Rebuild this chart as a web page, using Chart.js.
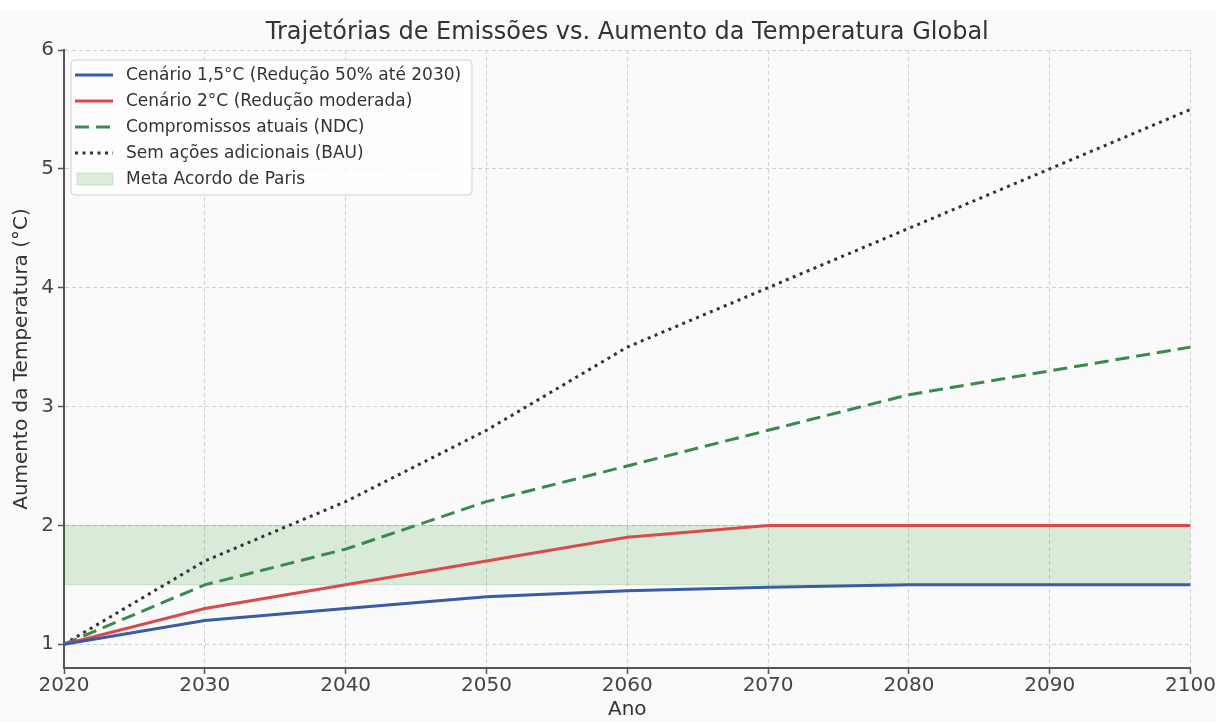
<!DOCTYPE html>
<html lang="pt">
<head>
<meta charset="utf-8">
<title>Trajetórias de Emissões</title>
<script src="https://cdn.jsdelivr.net/npm/chart.js@4.4.0/dist/chart.umd.min.js"></script>
<style>
  html, body { margin: 0; padding: 0; background: #fff; }
  #wrap { width: 1216px; height: 722px; }
</style>
</head>
<body>
<div id="wrap"><canvas id="myChart" width="1216" height="722"></canvas></div>
<script>
const years = [2020, 2030, 2040, 2050, 2060, 2070, 2080, 2090, 2100];
const cenario15 = [1.0, 1.2, 1.3, 1.4, 1.45, 1.48, 1.5, 1.5, 1.5];
const cenario2 = [1.0, 1.3, 1.5, 1.7, 1.9, 2.0, 2.0, 2.0, 2.0];
const ndc = [1.0, 1.5, 1.8, 2.2, 2.5, 2.8, 3.1, 3.3, 3.5];
const bau = [1.0, 1.7, 2.2, 2.8, 3.5, 4.0, 4.5, 5.0, 5.5];
const metaMin = [1.5, 1.5, 1.5, 1.5, 1.5, 1.5, 1.5, 1.5, 1.5];
const metaMax = [2.0, 2.0, 2.0, 2.0, 2.0, 2.0, 2.0, 2.0, 2.0];
const xTicks = [2020, 2030, 2040, 2050, 2060, 2070, 2080, 2090, 2100];
const yTicks = [1, 2, 3, 4, 5, 6];
const chartTitle = 'Trajetórias de Emissões vs. Aumento da Temperatura Global';

const FONT = "'DejaVu Sans', sans-serif";
const toPoints = (arr) => arr.map((v, i) => ({ x: years[i], y: v }));

const lineDataset = (label, data, color, dash, order) => ({
  label: label,
  data: toPoints(data),
  borderColor: color,
  backgroundColor: color,
  borderWidth: 3,
  borderDash: dash,
  pointRadius: 0,
  tension: 0,
  fill: false,
  order: order,
  legendType: 'line',
});

// fundo da figura + título centrado sobre a área do gráfico
const background = {
  id: 'background',
  beforeDraw: (chart) => {
    const ctx = chart.ctx;
    ctx.save();
    ctx.fillStyle = '#fafafa';
    ctx.fillRect(0, 10, chart.width, chart.height - 10);
    ctx.restore();
  },
  afterDraw: (chart) => {
    const ctx = chart.ctx;
    const { left, right } = chart.chartArea;
    ctx.save();
    ctx.font = `24px ${FONT}`;
    ctx.fillStyle = '#333';
    ctx.textAlign = 'center';
    ctx.textBaseline = 'middle';
    ctx.fillText(chartTitle, (left + right) / 2, 33);
    ctx.restore();
  },
};

// legenda desenhada dentro da área do gráfico (canto superior esquerdo)
const legendBox = {
  id: 'legendBox',
  afterDraw: (chart) => {
    const ctx = chart.ctx;
    const items = chart.data.datasets.filter((ds) => ds.legendType);
    const x = chart.chartArea.left + 7;
    const y = chart.chartArea.top + 10;
    ctx.save();
    ctx.beginPath();
    ctx.roundRect(x, y, 401, 135, 4);
    ctx.fillStyle = 'rgba(255,255,255,0.8)';
    ctx.fill();
    ctx.strokeStyle = '#d0d0d0';
    ctx.lineWidth = 1;
    ctx.stroke();

    ctx.font = `17px ${FONT}`;
    ctx.textBaseline = 'middle';
    items.forEach((ds, i) => {
      const rowY = y + 15 + i * 26;
      if (ds.legendType === 'patch') {
        ctx.fillStyle = ds.backgroundColor;
        ctx.fillRect(x + 6, rowY - 6, 36, 12);
        ctx.strokeStyle = ds.borderColor;
        ctx.lineWidth = 1;
        ctx.strokeRect(x + 6, rowY - 6, 36, 12);
      } else {
        ctx.beginPath();
        ctx.setLineDash(ds.borderDash || []);
        ctx.strokeStyle = ds.borderColor;
        ctx.lineWidth = 3;
        ctx.moveTo(x + 4, rowY);
        ctx.lineTo(x + 42, rowY);
        ctx.stroke();
        ctx.setLineDash([]);
      }
      ctx.fillStyle = '#333';
      ctx.fillText(ds.label, x + 55, rowY + 1);
    });
    ctx.restore();
  },
};

const ctx = document.getElementById('myChart').getContext('2d');
const chart = new Chart(ctx, {
  type: 'line',
  data: {
    datasets: [
      lineDataset('Cenário 1,5°C (Redução 50% até 2030)', cenario15, '#3a5ba6', [], 1),
      lineDataset('Cenário 2°C (Redução moderada)', cenario2, '#db4a4a', [], 2),
      lineDataset('Compromissos atuais (NDC)', ndc, '#3a8a4c', [14, 7], 3),
      lineDataset('Sem ações adicionais (BAU)', bau, '#333333', [3, 4.5], 4),
      {
        label: 'Meta Acordo de Paris',
        data: toPoints(metaMax),
        borderColor: 'rgba(0,128,0,0.16)',
        backgroundColor: 'rgba(0,128,0,0.13)',
        borderWidth: 1,
        pointRadius: 0,
        fill: '+1',
        order: 10,
        legendType: 'patch',
      },
      {
        label: '',
        data: toPoints(metaMin),
        borderColor: 'rgba(0,128,0,0.16)',
        borderWidth: 1,
        pointRadius: 0,
        fill: false,
        order: 11,
      },
    ],
  },
  options: {
    responsive: false,
    animation: false,
    layout: { padding: { left: 0, right: 22, top: 50, bottom: 0 } },
    plugins: {
      legend: { display: false },
      tooltip: { enabled: false },
      title: { display: false },
    },
    scales: {
      x: {
        type: 'linear',
        min: 2020,
        max: 2100,
        afterBuildTicks: (scale) => {
          scale.ticks = xTicks.map((v) => ({ value: v }));
        },
        afterFit: (scale) => {
          scale.height = 54;
        },
        ticks: {
          color: '#444',
          font: { family: FONT, size: 20 },
          padding: 0,
          maxRotation: 0,
          autoSkip: false,
          callback: (v) => String(v),
        },
        grid: {
          color: '#cfcfcf',
          lineWidth: 1,
          tickLength: 6,
          tickColor: '#555',
          tickWidth: 1.5,
          tickBorderDash: [],
        },
        border: { color: '#555', width: 2, dash: [4, 3] },
        title: {
          display: true,
          text: 'Ano',
          color: '#333',
          font: { family: FONT, size: 20 },
          padding: { top: 0, bottom: 0 },
        },
      },
      y: {
        type: 'linear',
        min: 0.8,
        max: 6,
        afterBuildTicks: (scale) => {
          scale.ticks = yTicks.map((v) => ({ value: v }));
        },
        afterFit: (scale) => {
          scale.width = 64;
        },
        ticks: {
          color: '#444',
          font: { family: FONT, size: 20 },
          padding: 4,
          callback: (v) => String(v),
        },
        grid: {
          color: '#cfcfcf',
          lineWidth: 1,
          tickLength: 6,
          tickColor: '#555',
          tickWidth: 1.5,
          tickBorderDash: [],
        },
        border: { color: '#555', width: 2, dash: [4, 3] },
        title: {
          display: true,
          text: 'Aumento da Temperatura (°C)',
          color: '#333',
          font: { family: FONT, size: 20 },
          padding: { top: 10, bottom: 0 },
        },
      },
    },
  },
  plugins: [background, legendBox],
});
</script>
</body>
</html>
